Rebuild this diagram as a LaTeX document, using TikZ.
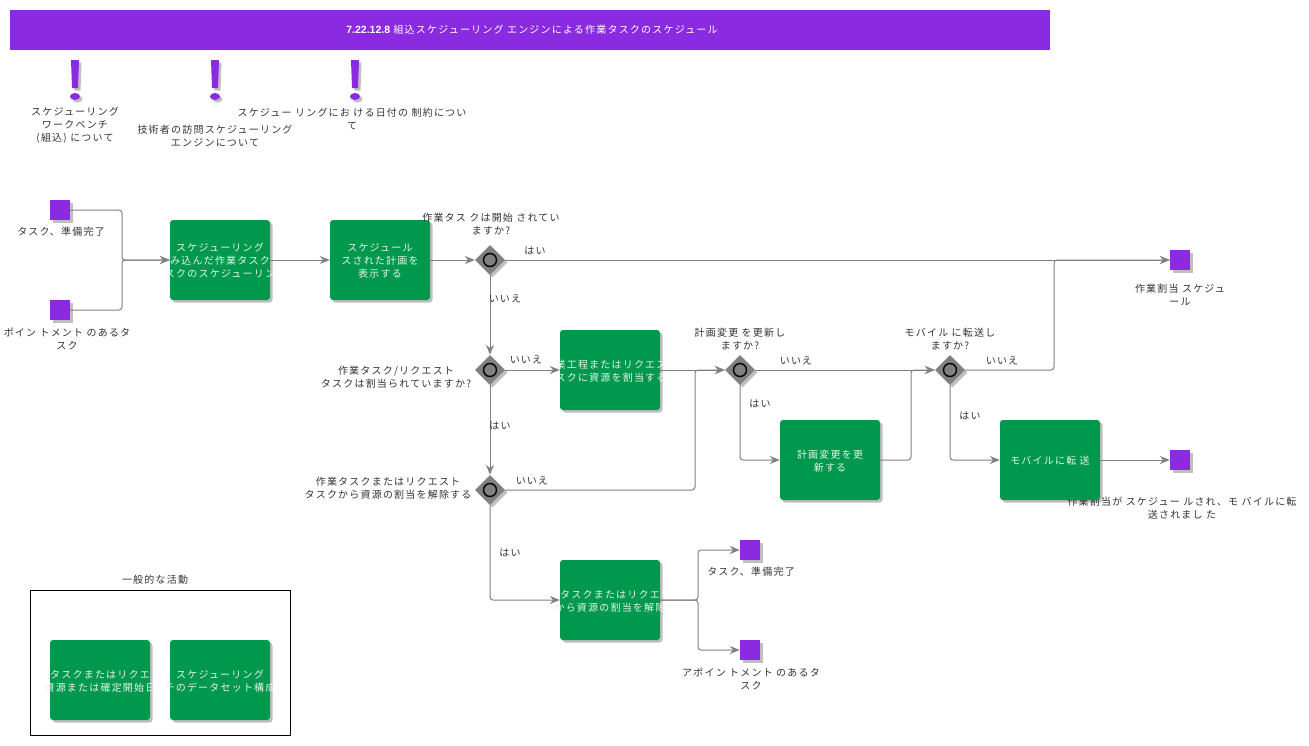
\documentclass[tikz,border=0pt]{standalone}
\usepackage{fontspec}
\setmainfont{Liberation Sans}
\newfontfamily\jp[LetterSpace=12]{Noto Sans CJK JP}
\usetikzlibrary{arrows.meta,shapes.geometric,shadows}
\definecolor{headpurple}{HTML}{8A2BE2}
\definecolor{taskgreen}{HTML}{00984C}
\definecolor{linegray}{HTML}{808080}
\tikzset{
  softshadow/.style={drop shadow={shadow xshift=2.5pt,shadow yshift=-2.5pt,fill=black,opacity=0.25}},
  lbl/.style={font=\jp\fontsize{10}{13}\selectfont,align=center,text=black!80,inner sep=0pt,yshift=-1pt},
  tasktxt/.style={lbl,text=white!90!taskgreen},
  task/.style={rectangle,rounded corners=3pt,fill=taskgreen,minimum width=100pt,minimum height=80pt,softshadow},
  event/.style={rectangle,fill=headpurple,minimum size=20pt,inner sep=0pt,softshadow},
  gate/.style={diamond,fill=linegray,minimum width=30pt,minimum height=30pt,inner sep=0pt,softshadow},
  ring/.style={circle,draw=black,line width=1.4pt,fill=linegray,minimum size=13pt,inner sep=0pt},
  flow/.style={draw=linegray,line width=1pt,rounded corners=3pt,-{Stealth[length=10pt,width=8pt]}},
}
\begin{document}
\begin{tikzpicture}[x=1pt,y=-1pt]
  \useasboundingbox (0,0) rectangle (1309,745);

  % header
  \fill[headpurple] (10,10) rectangle (1050,50);
  \node[lbl,text=white] (title) at (532,29) {\textbf{\rmfamily\fontsize{10.5}{13}\selectfont 7.22.12.8} 組込スケジューリング エンジンによる作業タスクのスケジュール};

  % notes
  \foreach \x in {75,215,355} {
    \fill[headpurple,softshadow] (\x-4,60) -- (\x+4,60) -- (\x+3,88) -- (\x-3,88) -- cycle;
    \fill[headpurple,softshadow] (\x,96.5) ellipse (5 and 3.5);
  }
  \node[lbl] (note1) at (75,124) {スケジューリング\\ワークベンチ\\(組込) について};
  \node[lbl] (note2) at (215,134.5) {技術者の訪問スケジューリング\\エンジンについて};
  \node[lbl] (note3) at (352,117.5) {スケジュー リングにお ける日付の 制約につい\\て};

  % events
  \node[event] (s1) at (60,210) {};
  \node[event] (s2) at (60,310) {};
  \node[event] (s3) at (1180,260) {};
  \node[event] (s4) at (1180,460) {};
  \node[event] (s5) at (750,550) {};
  \node[event] (s6) at (750,650) {};
  \node[lbl] (s1txt) at (61,231) {タスク、準備完了};
  \node[lbl] (s2txt) at (67,337.5) {ポイン トメント のあるタ\\スク\hspace{12pt}};
  \node[lbl] (s3txt) at (1180,293.5) {作業割当 スケジュ\\ール};
  \node[lbl] (s4txt) at (1182,507.5) {作業割当が スケジュー ルされ、モ バイルに転\\送されまし た};
  \node[lbl] (s5txt) at (751,571) {タスク、準備完了};
  \node[lbl] (s6txt) at (751,677.5) {アポイン トメント のあるタ\\スク};

  % tasks
  \node[task] (b1) at (220,260) {};
  \node[task] (b2) at (380,260) {};
  \node[task] (b3) at (610,370) {};
  \node[task] (b4) at (830,460) {};
  \node[task] (b5) at (1050,460) {};
  \node[task] (b6) at (610,600) {};
  \node[task] (b7) at (100,680) {};
  \node[task] (b8) at (220,680) {};
  \node[tasktxt] (b1txt) at (220,260) {スケジューリング\\み込んだ作業タスク\\スクのスケジューリン};
  \node[tasktxt] (b2txt) at (380,260) {スケジュール\\スされた計画を\hspace{20pt}\\表示する};
  \node[tasktxt] (b3txt) at (611,370.5) {業工程またはリクエス\\スクに資源を割当する};
  \node[tasktxt] (b4txt) at (830,460.5) {計画変更を更\\新する};
  \node[tasktxt] (b5txt) at (1050,460) {モバイルに転 送};
  \node[tasktxt] (b6txt) at (610,600.5) {タスクまたはリクエ\\から資源の割当を解除};
  \node[tasktxt] (b7txt) at (100,680.5) {タスクまたはリクエ\\資源または確定開始日};
  \node[tasktxt] (b8txt) at (220,680.5) {スケジューリング\\チのデータセット構成};

  % gateways
  \foreach \n/\x/\y in {d1/490/260,d2/490/370,d3/490/490,d4/740/370,d5/950/370} {
    \node[gate] (\n) at (\x,\y) {};
    \node[ring] (\n r) at (\n) {};
  }
  \node[lbl] (d1txt) at (491,223.5) {作業タス クは開始 されてい\\ますか?};
  \node[lbl] (d2txt) at (396,376.5) {作業タスク/リクエスト\\タスクは割当られていますか?};
  \node[lbl] (d3txt) at (388,487.5) {作業タスクまたはリクエスト\\タスクから資源の割当を解除する};
  \node[lbl] (d4txt) at (740,338.5) {計画変更 を更新し\\ますか?};
  \node[lbl] (d5txt) at (950,338.5) {モバイル に転送し\\ますか?};

  % bends
  \coordinate (j1) at (122,260);
  \coordinate (j2) at (698,600);
  \coordinate (j3) at (695,370);
  \coordinate (j4) at (911,370);
  \coordinate (j5) at (1054,260);

  \draw[flow] (s1.east) -| (j1) -- (b1.west);
  \draw[flow] (s2.east) -| (j1) -- (b1.west);
  \draw[flow] (b1.east) -- (b2.west);
  \draw[flow] (b2.east) -- (d1.west);
  \draw[flow] (d1.east) -- (s3.west);
  \draw[flow] (d1.south) -- (d2.north);
  \draw[flow] (d2.east) -- (b3.west);
  \draw[flow] (d2.south) -- (d3.north);
  \draw[flow] (b3.east) -- (d4.west);
  \draw[flow] (d3.east) -| (j3) -- (d4.west);
  \draw[flow] (d3.south) |- (b6.west);
  \draw[flow] (d4.east) -- (d5.west);
  \draw[flow] (d4.south) |- (b4.west);
  \draw[flow] (b4.east) -| (j4) -- (d5.west);
  \draw[flow] (d5.east) -| (j5) -- (s3.west);
  \draw[flow] (d5.south) |- (b5.west);
  \draw[flow] (b5.east) -- (s4.west);
  \draw[flow] (b6.east) -- (j2) |- (s5.west);
  \draw[flow] (b6.east) -- (j2) |- (s6.west);

  % branch labels
  \node[lbl] (yes1) at (535,250) {はい};
  \node[lbl] (no1) at (505,298) {いいえ};
  \node[lbl] (no2) at (526,359) {いいえ};
  \node[lbl] (yes2) at (500,425) {はい};
  \node[lbl] (no3) at (532,480) {いいえ};
  \node[lbl] (yes3) at (510,552) {はい};
  \node[lbl] (no4) at (796,360) {いいえ};
  \node[lbl] (yes4) at (760,403) {はい};
  \node[lbl] (no5) at (1002,360) {いいえ};
  \node[lbl] (yes5) at (970,415) {はい};

  % legend
  \draw[black,line width=1pt] (30.5,590.5) rectangle (290.5,735.5);
  \node[lbl] (legend) at (155,579) {一般的な活動};
\end{tikzpicture}
\end{document}
